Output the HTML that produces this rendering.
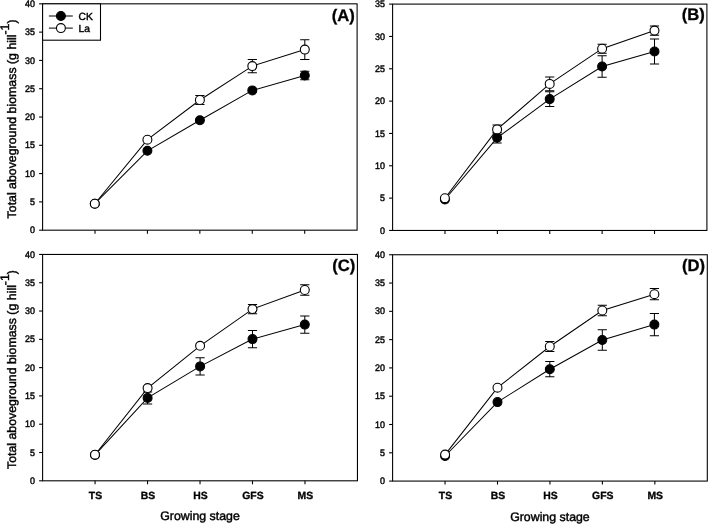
<!DOCTYPE html>
<html><head><meta charset="utf-8"><title>Total aboveground biomass</title>
<style>html,body{margin:0;padding:0;background:#fff}body{width:708px;height:524px;overflow:hidden}svg{display:block}svg{filter:grayscale(1)}text{text-rendering:geometricPrecision;stroke:#000;stroke-width:0.42px;font-family:"Liberation Sans",sans-serif;fill:#000}text[font-weight=bold]{stroke-width:0.3px}</style></head><body>
<svg width="708" height="524" viewBox="0 0 708 524">
<rect width="708" height="524" fill="#fff"/>
<g id="panelA">
<rect x="42.6" y="3.83" width="314.5" height="226.35" fill="none" stroke="#000" stroke-width="1.08"/>
<line x1="39.1" y1="230.18" x2="42.6" y2="230.18" stroke="#000" stroke-width="1.08"/>
<text transform="translate(35 233.33) scale(0.94 1)" font-size="9.5" text-anchor="end">0</text>
<line x1="39.1" y1="201.89" x2="42.6" y2="201.89" stroke="#000" stroke-width="1.08"/>
<text transform="translate(35 205.04) scale(0.94 1)" font-size="9.5" text-anchor="end">5</text>
<line x1="39.1" y1="173.59" x2="42.6" y2="173.59" stroke="#000" stroke-width="1.08"/>
<text transform="translate(35 176.74) scale(0.94 1)" font-size="9.5" text-anchor="end">10</text>
<line x1="39.1" y1="145.3" x2="42.6" y2="145.3" stroke="#000" stroke-width="1.08"/>
<text transform="translate(35 148.45) scale(0.94 1)" font-size="9.5" text-anchor="end">15</text>
<line x1="39.1" y1="117.01" x2="42.6" y2="117.01" stroke="#000" stroke-width="1.08"/>
<text transform="translate(35 120.16) scale(0.94 1)" font-size="9.5" text-anchor="end">20</text>
<line x1="39.1" y1="88.71" x2="42.6" y2="88.71" stroke="#000" stroke-width="1.08"/>
<text transform="translate(35 91.86) scale(0.94 1)" font-size="9.5" text-anchor="end">25</text>
<line x1="39.1" y1="60.42" x2="42.6" y2="60.42" stroke="#000" stroke-width="1.08"/>
<text transform="translate(35 63.57) scale(0.94 1)" font-size="9.5" text-anchor="end">30</text>
<line x1="39.1" y1="32.12" x2="42.6" y2="32.12" stroke="#000" stroke-width="1.08"/>
<text transform="translate(35 35.27) scale(0.94 1)" font-size="9.5" text-anchor="end">35</text>
<line x1="39.1" y1="3.83" x2="42.6" y2="3.83" stroke="#000" stroke-width="1.08"/>
<text transform="translate(35 6.98) scale(0.94 1)" font-size="9.5" text-anchor="end">40</text>
<line x1="95.02" y1="230.18" x2="95.02" y2="233.68" stroke="#000" stroke-width="1.08"/>
<line x1="147.43" y1="230.18" x2="147.43" y2="233.68" stroke="#000" stroke-width="1.08"/>
<line x1="199.85" y1="230.18" x2="199.85" y2="233.68" stroke="#000" stroke-width="1.08"/>
<line x1="252.27" y1="230.18" x2="252.27" y2="233.68" stroke="#000" stroke-width="1.08"/>
<line x1="304.68" y1="230.18" x2="304.68" y2="233.68" stroke="#000" stroke-width="1.08"/>
<text transform="translate(15.7 118.91) rotate(-90)" font-size="12.35" text-anchor="middle">Total aboveground biomass (g hill<tspan dy="-6.3">-1</tspan><tspan dy="6.3">)</tspan></text>
<text x="354.9" y="21.33" font-size="16.6" font-weight="bold" text-anchor="end">(A)</text>
<polyline points="94.8,203.7 147.4,150.8 199.9,120.3 252.3,90.4 304.8,75.5" fill="none" stroke="#000" stroke-width="1.02"/>
<path d="M304.8 71.3V79.7M300.2 71.3H309.4M300.2 79.7H309.4" fill="none" stroke="#000" stroke-width="1.02"/>
<circle cx="94.8" cy="203.7" r="4.45" fill="#000" stroke="#000" stroke-width="1.1"/>
<circle cx="147.4" cy="150.8" r="4.45" fill="#000" stroke="#000" stroke-width="1.1"/>
<circle cx="199.9" cy="120.3" r="4.45" fill="#000" stroke="#000" stroke-width="1.1"/>
<circle cx="252.3" cy="90.4" r="4.45" fill="#000" stroke="#000" stroke-width="1.1"/>
<circle cx="304.8" cy="75.5" r="4.45" fill="#000" stroke="#000" stroke-width="1.1"/>
<polyline points="94.8,203.7 147.4,139.7 199.9,100 252.3,66.1 304.8,49.6" fill="none" stroke="#000" stroke-width="1.02"/>
<path d="M199.9 95.6V104.4M195.3 95.6H204.5M195.3 104.4H204.5" fill="none" stroke="#000" stroke-width="1.02"/>
<path d="M252.3 59.5V72.7M247.7 59.5H256.9M247.7 72.7H256.9" fill="none" stroke="#000" stroke-width="1.02"/>
<path d="M304.8 39.8V59.4M300.2 39.8H309.4M300.2 59.4H309.4" fill="none" stroke="#000" stroke-width="1.02"/>
<circle cx="94.8" cy="203.7" r="4.45" fill="#fff" stroke="#000" stroke-width="1.1"/>
<circle cx="147.4" cy="139.7" r="4.45" fill="#fff" stroke="#000" stroke-width="1.1"/>
<circle cx="199.9" cy="100" r="4.45" fill="#fff" stroke="#000" stroke-width="1.1"/>
<circle cx="252.3" cy="66.1" r="4.45" fill="#fff" stroke="#000" stroke-width="1.1"/>
<circle cx="304.8" cy="49.6" r="4.45" fill="#fff" stroke="#000" stroke-width="1.1"/>
<rect x="42.6" y="3.83" width="57.9" height="36.37" fill="#fff" stroke="#000" stroke-width="1.08"/>
<line x1="48.9" y1="16.0" x2="72.8" y2="16.0" stroke="#000" stroke-width="1.02"/>
<circle cx="60.9" cy="16.0" r="4.45" fill="#000" stroke="#000" stroke-width="1.1"/>
<text x="78.6" y="19.7" font-size="10.3">CK</text>
<line x1="48.9" y1="28.1" x2="72.8" y2="28.1" stroke="#000" stroke-width="1.02"/>
<circle cx="60.9" cy="28.1" r="4.45" fill="#fff" stroke="#000" stroke-width="1.1"/>
<text x="78.6" y="31.8" font-size="10.3">La</text>
</g>
<g id="panelB">
<rect x="392.6" y="4.1" width="314.3" height="226.35" fill="none" stroke="#000" stroke-width="1.08"/>
<line x1="389.1" y1="230.45" x2="392.6" y2="230.45" stroke="#000" stroke-width="1.08"/>
<text transform="translate(385 233.6) scale(0.94 1)" font-size="9.5" text-anchor="end">0</text>
<line x1="389.1" y1="198.11" x2="392.6" y2="198.11" stroke="#000" stroke-width="1.08"/>
<text transform="translate(385 201.26) scale(0.94 1)" font-size="9.5" text-anchor="end">5</text>
<line x1="389.1" y1="165.78" x2="392.6" y2="165.78" stroke="#000" stroke-width="1.08"/>
<text transform="translate(385 168.93) scale(0.94 1)" font-size="9.5" text-anchor="end">10</text>
<line x1="389.1" y1="133.44" x2="392.6" y2="133.44" stroke="#000" stroke-width="1.08"/>
<text transform="translate(385 136.59) scale(0.94 1)" font-size="9.5" text-anchor="end">15</text>
<line x1="389.1" y1="101.11" x2="392.6" y2="101.11" stroke="#000" stroke-width="1.08"/>
<text transform="translate(385 104.26) scale(0.94 1)" font-size="9.5" text-anchor="end">20</text>
<line x1="389.1" y1="68.77" x2="392.6" y2="68.77" stroke="#000" stroke-width="1.08"/>
<text transform="translate(385 71.92) scale(0.94 1)" font-size="9.5" text-anchor="end">25</text>
<line x1="389.1" y1="36.44" x2="392.6" y2="36.44" stroke="#000" stroke-width="1.08"/>
<text transform="translate(385 39.59) scale(0.94 1)" font-size="9.5" text-anchor="end">30</text>
<line x1="389.1" y1="4.1" x2="392.6" y2="4.1" stroke="#000" stroke-width="1.08"/>
<text transform="translate(385 7.25) scale(0.94 1)" font-size="9.5" text-anchor="end">35</text>
<line x1="444.98" y1="230.45" x2="444.98" y2="233.95" stroke="#000" stroke-width="1.08"/>
<line x1="497.37" y1="230.45" x2="497.37" y2="233.95" stroke="#000" stroke-width="1.08"/>
<line x1="549.75" y1="230.45" x2="549.75" y2="233.95" stroke="#000" stroke-width="1.08"/>
<line x1="602.13" y1="230.45" x2="602.13" y2="233.95" stroke="#000" stroke-width="1.08"/>
<line x1="654.52" y1="230.45" x2="654.52" y2="233.95" stroke="#000" stroke-width="1.08"/>
<text x="704.7" y="19.95" font-size="16.6" font-weight="bold" text-anchor="end">(B)</text>
<polyline points="444.9,199.5 497.1,137.8 549.7,99.1 602.1,66.5 654.5,51.5" fill="none" stroke="#000" stroke-width="1.02"/>
<path d="M497.1 132.6V143M492.5 132.6H501.7M492.5 143H501.7" fill="none" stroke="#000" stroke-width="1.02"/>
<path d="M549.7 91.7V106.5M545.1 91.7H554.3M545.1 106.5H554.3" fill="none" stroke="#000" stroke-width="1.02"/>
<path d="M602.1 55.8V77.2M597.5 55.8H606.7M597.5 77.2H606.7" fill="none" stroke="#000" stroke-width="1.02"/>
<path d="M654.5 39.1V63.9M649.9 39.1H659.1M649.9 63.9H659.1" fill="none" stroke="#000" stroke-width="1.02"/>
<circle cx="444.9" cy="199.5" r="4.45" fill="#000" stroke="#000" stroke-width="1.1"/>
<circle cx="497.1" cy="137.8" r="4.45" fill="#000" stroke="#000" stroke-width="1.1"/>
<circle cx="549.7" cy="99.1" r="4.45" fill="#000" stroke="#000" stroke-width="1.1"/>
<circle cx="602.1" cy="66.5" r="4.45" fill="#000" stroke="#000" stroke-width="1.1"/>
<circle cx="654.5" cy="51.5" r="4.45" fill="#000" stroke="#000" stroke-width="1.1"/>
<polyline points="444.9,198.2 497.1,129.4 549.7,83.9 602.1,48.7 654.5,30.6" fill="none" stroke="#000" stroke-width="1.02"/>
<path d="M497.1 124.9V133.9M492.5 124.9H501.7M492.5 133.9H501.7" fill="none" stroke="#000" stroke-width="1.02"/>
<path d="M549.7 77.1V90.7M545.1 77.1H554.3M545.1 90.7H554.3" fill="none" stroke="#000" stroke-width="1.02"/>
<path d="M602.1 44.2V53.2M597.5 44.2H606.7M597.5 53.2H606.7" fill="none" stroke="#000" stroke-width="1.02"/>
<path d="M654.5 26V35.2M649.9 26H659.1M649.9 35.2H659.1" fill="none" stroke="#000" stroke-width="1.02"/>
<circle cx="444.9" cy="198.2" r="4.45" fill="#fff" stroke="#000" stroke-width="1.1"/>
<circle cx="497.1" cy="129.4" r="4.45" fill="#fff" stroke="#000" stroke-width="1.1"/>
<circle cx="549.7" cy="83.9" r="4.45" fill="#fff" stroke="#000" stroke-width="1.1"/>
<circle cx="602.1" cy="48.7" r="4.45" fill="#fff" stroke="#000" stroke-width="1.1"/>
<circle cx="654.5" cy="30.6" r="4.45" fill="#fff" stroke="#000" stroke-width="1.1"/>
</g>
<g id="panelC">
<rect x="42.6" y="254.45" width="314.85" height="226.35" fill="none" stroke="#000" stroke-width="1.08"/>
<line x1="39.1" y1="480.8" x2="42.6" y2="480.8" stroke="#000" stroke-width="1.08"/>
<text transform="translate(35 483.95) scale(0.94 1)" font-size="9.5" text-anchor="end">0</text>
<line x1="39.1" y1="452.51" x2="42.6" y2="452.51" stroke="#000" stroke-width="1.08"/>
<text transform="translate(35 455.66) scale(0.94 1)" font-size="9.5" text-anchor="end">5</text>
<line x1="39.1" y1="424.21" x2="42.6" y2="424.21" stroke="#000" stroke-width="1.08"/>
<text transform="translate(35 427.36) scale(0.94 1)" font-size="9.5" text-anchor="end">10</text>
<line x1="39.1" y1="395.92" x2="42.6" y2="395.92" stroke="#000" stroke-width="1.08"/>
<text transform="translate(35 399.07) scale(0.94 1)" font-size="9.5" text-anchor="end">15</text>
<line x1="39.1" y1="367.62" x2="42.6" y2="367.62" stroke="#000" stroke-width="1.08"/>
<text transform="translate(35 370.77) scale(0.94 1)" font-size="9.5" text-anchor="end">20</text>
<line x1="39.1" y1="339.33" x2="42.6" y2="339.33" stroke="#000" stroke-width="1.08"/>
<text transform="translate(35 342.48) scale(0.94 1)" font-size="9.5" text-anchor="end">25</text>
<line x1="39.1" y1="311.04" x2="42.6" y2="311.04" stroke="#000" stroke-width="1.08"/>
<text transform="translate(35 314.19) scale(0.94 1)" font-size="9.5" text-anchor="end">30</text>
<line x1="39.1" y1="282.74" x2="42.6" y2="282.74" stroke="#000" stroke-width="1.08"/>
<text transform="translate(35 285.89) scale(0.94 1)" font-size="9.5" text-anchor="end">35</text>
<line x1="39.1" y1="254.45" x2="42.6" y2="254.45" stroke="#000" stroke-width="1.08"/>
<text transform="translate(35 257.6) scale(0.94 1)" font-size="9.5" text-anchor="end">40</text>
<line x1="95.07" y1="480.8" x2="95.07" y2="484.3" stroke="#000" stroke-width="1.08"/>
<text x="95.47" y="499.2" font-size="10.4" font-weight="bold" text-anchor="middle">TS</text>
<line x1="147.55" y1="480.8" x2="147.55" y2="484.3" stroke="#000" stroke-width="1.08"/>
<text x="147.95" y="499.2" font-size="10.4" font-weight="bold" text-anchor="middle">BS</text>
<line x1="200.02" y1="480.8" x2="200.02" y2="484.3" stroke="#000" stroke-width="1.08"/>
<text x="200.42" y="499.2" font-size="10.4" font-weight="bold" text-anchor="middle">HS</text>
<line x1="252.5" y1="480.8" x2="252.5" y2="484.3" stroke="#000" stroke-width="1.08"/>
<text x="252.9" y="499.2" font-size="10.4" font-weight="bold" text-anchor="middle">GFS</text>
<line x1="304.98" y1="480.8" x2="304.98" y2="484.3" stroke="#000" stroke-width="1.08"/>
<text x="305.38" y="499.2" font-size="10.4" font-weight="bold" text-anchor="middle">MS</text>
<text x="200.03" y="520.3" font-size="12.35" text-anchor="middle">Growing stage</text>
<text transform="translate(15.7 369.52) rotate(-90)" font-size="12.35" text-anchor="middle">Total aboveground biomass (g hill<tspan dy="-6.3">-1</tspan><tspan dy="6.3">)</tspan></text>
<text x="355.25" y="271.05" font-size="16.6" font-weight="bold" text-anchor="end">(C)</text>
<polyline points="95,454.9 147.6,397.9 200.1,366.4 252.5,339.1 304.8,324.6" fill="none" stroke="#000" stroke-width="1.02"/>
<path d="M147.6 391.9V403.9M143 391.9H152.2M143 403.9H152.2" fill="none" stroke="#000" stroke-width="1.02"/>
<path d="M200.1 357.7V375.1M195.5 357.7H204.7M195.5 375.1H204.7" fill="none" stroke="#000" stroke-width="1.02"/>
<path d="M252.5 330.4V347.8M247.9 330.4H257.1M247.9 347.8H257.1" fill="none" stroke="#000" stroke-width="1.02"/>
<path d="M304.8 315.9V333.3M300.2 315.9H309.4M300.2 333.3H309.4" fill="none" stroke="#000" stroke-width="1.02"/>
<circle cx="95" cy="454.9" r="4.45" fill="#000" stroke="#000" stroke-width="1.1"/>
<circle cx="147.6" cy="397.9" r="4.45" fill="#000" stroke="#000" stroke-width="1.1"/>
<circle cx="200.1" cy="366.4" r="4.45" fill="#000" stroke="#000" stroke-width="1.1"/>
<circle cx="252.5" cy="339.1" r="4.45" fill="#000" stroke="#000" stroke-width="1.1"/>
<circle cx="304.8" cy="324.6" r="4.45" fill="#000" stroke="#000" stroke-width="1.1"/>
<polyline points="95,454.7 147.6,388.1 200.1,345.8 252.5,309.1 304.8,290" fill="none" stroke="#000" stroke-width="1.02"/>
<path d="M252.5 304.5V313.7M247.9 304.5H257.1M247.9 313.7H257.1" fill="none" stroke="#000" stroke-width="1.02"/>
<path d="M304.8 284.7V295.3M300.2 284.7H309.4M300.2 295.3H309.4" fill="none" stroke="#000" stroke-width="1.02"/>
<circle cx="95" cy="454.7" r="4.45" fill="#fff" stroke="#000" stroke-width="1.1"/>
<circle cx="147.6" cy="388.1" r="4.45" fill="#fff" stroke="#000" stroke-width="1.1"/>
<circle cx="200.1" cy="345.8" r="4.45" fill="#fff" stroke="#000" stroke-width="1.1"/>
<circle cx="252.5" cy="309.1" r="4.45" fill="#fff" stroke="#000" stroke-width="1.1"/>
<circle cx="304.8" cy="290" r="4.45" fill="#fff" stroke="#000" stroke-width="1.1"/>
</g>
<g id="panelD">
<rect x="392.6" y="254.75" width="314.7" height="226.33" fill="none" stroke="#000" stroke-width="1.08"/>
<line x1="389.1" y1="481.08" x2="392.6" y2="481.08" stroke="#000" stroke-width="1.08"/>
<text transform="translate(385 484.23) scale(0.94 1)" font-size="9.5" text-anchor="end">0</text>
<line x1="389.1" y1="452.79" x2="392.6" y2="452.79" stroke="#000" stroke-width="1.08"/>
<text transform="translate(385 455.94) scale(0.94 1)" font-size="9.5" text-anchor="end">5</text>
<line x1="389.1" y1="424.5" x2="392.6" y2="424.5" stroke="#000" stroke-width="1.08"/>
<text transform="translate(385 427.65) scale(0.94 1)" font-size="9.5" text-anchor="end">10</text>
<line x1="389.1" y1="396.21" x2="392.6" y2="396.21" stroke="#000" stroke-width="1.08"/>
<text transform="translate(385 399.36) scale(0.94 1)" font-size="9.5" text-anchor="end">15</text>
<line x1="389.1" y1="367.91" x2="392.6" y2="367.91" stroke="#000" stroke-width="1.08"/>
<text transform="translate(385 371.06) scale(0.94 1)" font-size="9.5" text-anchor="end">20</text>
<line x1="389.1" y1="339.62" x2="392.6" y2="339.62" stroke="#000" stroke-width="1.08"/>
<text transform="translate(385 342.77) scale(0.94 1)" font-size="9.5" text-anchor="end">25</text>
<line x1="389.1" y1="311.33" x2="392.6" y2="311.33" stroke="#000" stroke-width="1.08"/>
<text transform="translate(385 314.48) scale(0.94 1)" font-size="9.5" text-anchor="end">30</text>
<line x1="389.1" y1="283.04" x2="392.6" y2="283.04" stroke="#000" stroke-width="1.08"/>
<text transform="translate(385 286.19) scale(0.94 1)" font-size="9.5" text-anchor="end">35</text>
<line x1="389.1" y1="254.75" x2="392.6" y2="254.75" stroke="#000" stroke-width="1.08"/>
<text transform="translate(385 257.9) scale(0.94 1)" font-size="9.5" text-anchor="end">40</text>
<line x1="445.05" y1="481.08" x2="445.05" y2="484.58" stroke="#000" stroke-width="1.08"/>
<text x="445.45" y="499.48" font-size="10.4" font-weight="bold" text-anchor="middle">TS</text>
<line x1="497.5" y1="481.08" x2="497.5" y2="484.58" stroke="#000" stroke-width="1.08"/>
<text x="497.9" y="499.48" font-size="10.4" font-weight="bold" text-anchor="middle">BS</text>
<line x1="549.95" y1="481.08" x2="549.95" y2="484.58" stroke="#000" stroke-width="1.08"/>
<text x="550.35" y="499.48" font-size="10.4" font-weight="bold" text-anchor="middle">HS</text>
<line x1="602.4" y1="481.08" x2="602.4" y2="484.58" stroke="#000" stroke-width="1.08"/>
<text x="602.8" y="499.48" font-size="10.4" font-weight="bold" text-anchor="middle">GFS</text>
<line x1="654.85" y1="481.08" x2="654.85" y2="484.58" stroke="#000" stroke-width="1.08"/>
<text x="655.25" y="499.48" font-size="10.4" font-weight="bold" text-anchor="middle">MS</text>
<text x="549.95" y="520.58" font-size="12.35" text-anchor="middle">Growing stage</text>
<text x="705.1" y="271.1" font-size="16.6" font-weight="bold" text-anchor="end">(D)</text>
<polyline points="445.1,456 497.5,402.1 549.8,369.2 602.3,340 654.4,324.6" fill="none" stroke="#000" stroke-width="1.02"/>
<path d="M549.8 361.6V376.8M545.2 361.6H554.4M545.2 376.8H554.4" fill="none" stroke="#000" stroke-width="1.02"/>
<path d="M602.3 329.8V350.2M597.7 329.8H606.9M597.7 350.2H606.9" fill="none" stroke="#000" stroke-width="1.02"/>
<path d="M654.4 313.5V335.7M649.8 313.5H659M649.8 335.7H659" fill="none" stroke="#000" stroke-width="1.02"/>
<circle cx="445.1" cy="456" r="4.45" fill="#000" stroke="#000" stroke-width="1.1"/>
<circle cx="497.5" cy="402.1" r="4.45" fill="#000" stroke="#000" stroke-width="1.1"/>
<circle cx="549.8" cy="369.2" r="4.45" fill="#000" stroke="#000" stroke-width="1.1"/>
<circle cx="602.3" cy="340" r="4.45" fill="#000" stroke="#000" stroke-width="1.1"/>
<circle cx="654.4" cy="324.6" r="4.45" fill="#000" stroke="#000" stroke-width="1.1"/>
<polyline points="445.1,454.6 497.5,387.7 549.8,346.5 602.3,310.5 654.4,294.2" fill="none" stroke="#000" stroke-width="1.02"/>
<path d="M549.8 341.5V351.5M545.2 341.5H554.4M545.2 351.5H554.4" fill="none" stroke="#000" stroke-width="1.02"/>
<path d="M602.3 305.3V315.7M597.7 305.3H606.9M597.7 315.7H606.9" fill="none" stroke="#000" stroke-width="1.02"/>
<path d="M654.4 288.6V299.8M649.8 288.6H659M649.8 299.8H659" fill="none" stroke="#000" stroke-width="1.02"/>
<circle cx="445.1" cy="454.6" r="4.45" fill="#fff" stroke="#000" stroke-width="1.1"/>
<circle cx="497.5" cy="387.7" r="4.45" fill="#fff" stroke="#000" stroke-width="1.1"/>
<circle cx="549.8" cy="346.5" r="4.45" fill="#fff" stroke="#000" stroke-width="1.1"/>
<circle cx="602.3" cy="310.5" r="4.45" fill="#fff" stroke="#000" stroke-width="1.1"/>
<circle cx="654.4" cy="294.2" r="4.45" fill="#fff" stroke="#000" stroke-width="1.1"/>
</g>
</svg></body></html>
